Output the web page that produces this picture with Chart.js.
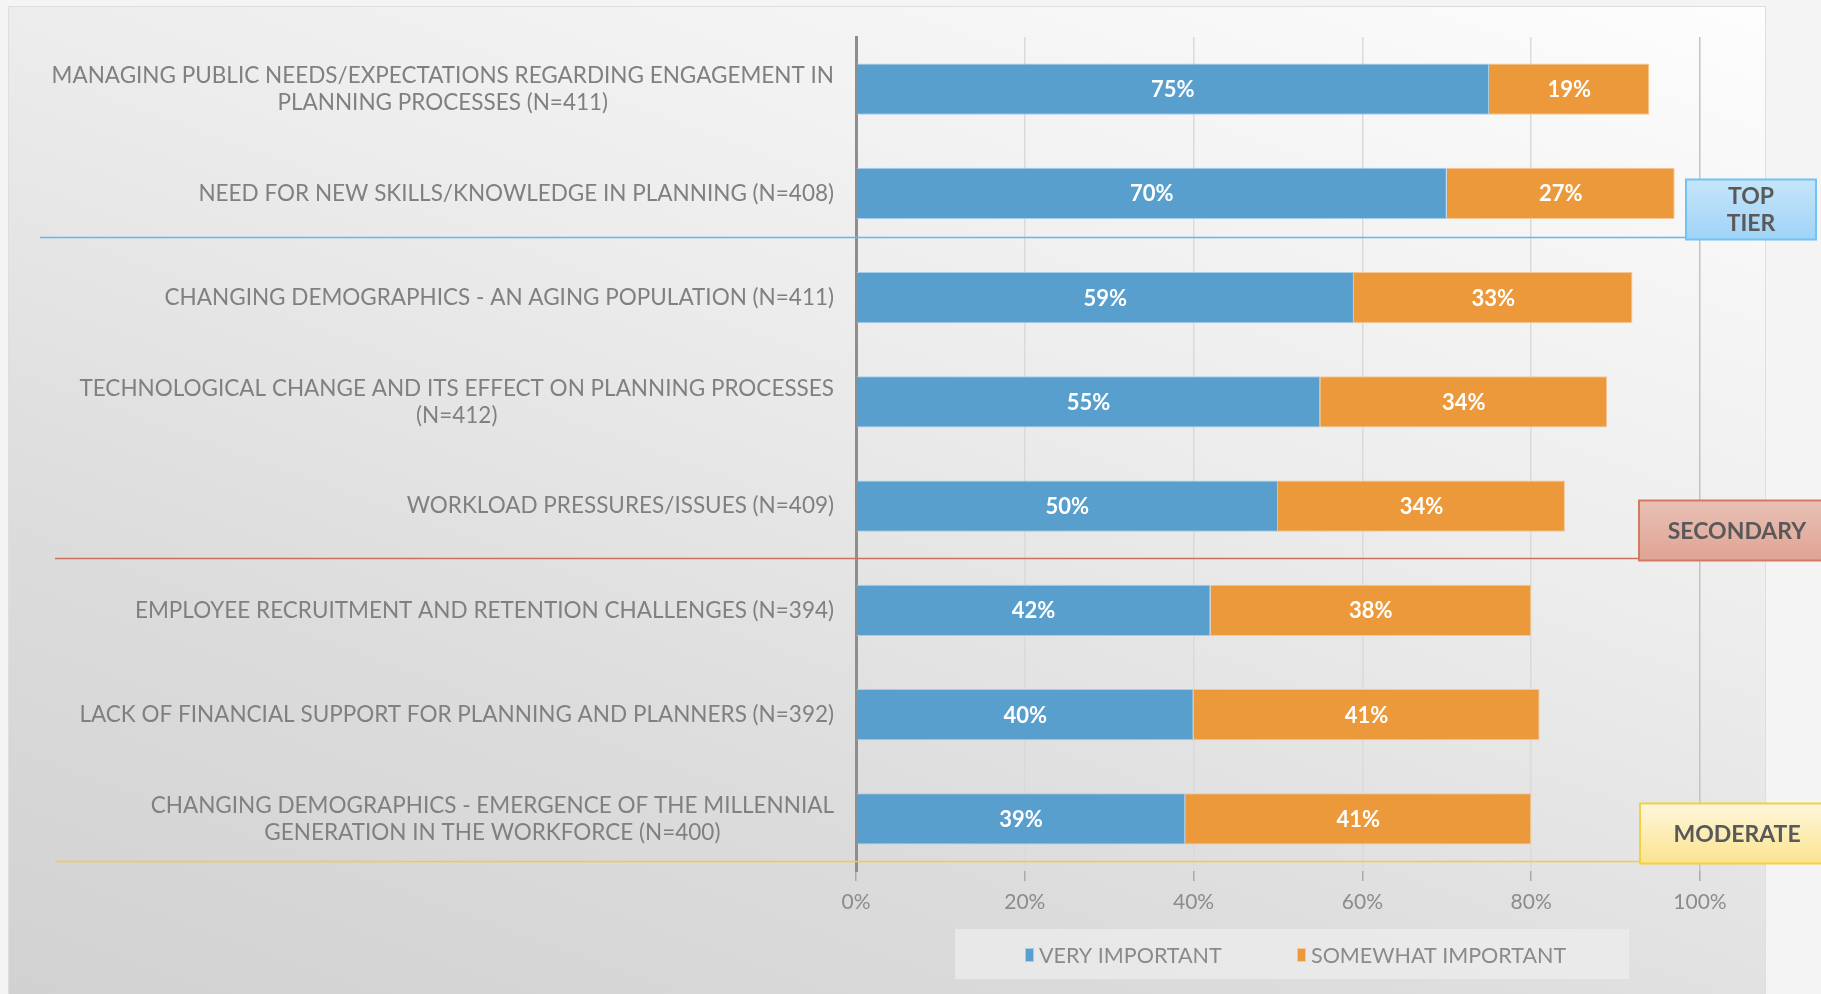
<!DOCTYPE html>
<html>
<head>
<meta charset="utf-8">
<title>Planning issues by importance</title>
<script src="https://cdn.jsdelivr.net/npm/chart.js@4.4.1/dist/chart.umd.min.js"></script>
<style>
  html, body { margin: 0; padding: 0; background: #f4f4f4; }
  #wrap  { position: relative; width: 1821px; height: 994px; overflow: hidden; }
  #panel {
    position: absolute; left: 8px; top: 6px; width: 1756px; height: 1000px;
    border: 1px solid #dedede;
    background: linear-gradient(200deg, #fdfdfd 0%, #ececec 40%, #dcdcdc 70%, #d1d1d1 100%);
  }
  #chart { position: absolute; left: 0; top: 0; }
</style>
</head>
<body>
<div id="wrap">
  <div id="panel"></div>
  <canvas id="chart" width="1821" height="994"></canvas>
</div>

<script>
/* ─── Data ───────────────────────────────────────────────────────────────── */
const categories = [
  ['MANAGING PUBLIC NEEDS/EXPECTATIONS REGARDING ENGAGEMENT IN', 'PLANNING PROCESSES (N=411)'],
  ['NEED FOR NEW SKILLS/KNOWLEDGE IN PLANNING (N=408)'],
  ['CHANGING DEMOGRAPHICS - AN AGING POPULATION (N=411)'],
  ['TECHNOLOGICAL CHANGE AND ITS EFFECT ON PLANNING PROCESSES', '(N=412)'],
  ['WORKLOAD PRESSURES/ISSUES (N=409)'],
  ['EMPLOYEE RECRUITMENT AND RETENTION CHALLENGES (N=394)'],
  ['LACK OF FINANCIAL SUPPORT FOR PLANNING AND PLANNERS (N=392)'],
  ['CHANGING DEMOGRAPHICS - EMERGENCE OF THE MILLENNIAL', 'GENERATION IN THE WORKFORCE (N=400)'],
];
const veryImportant     = [75, 70, 59, 55, 50, 42, 40, 39];
const somewhatImportant = [19, 27, 33, 34, 34, 38, 41, 41];
const seriesNames       = ['VERY IMPORTANT', 'SOMEWHAT IMPORTANT'];
const xTickValues       = [0, 20, 40, 60, 80, 100];
const tierNames         = [['TOP', 'TIER'], ['SECONDARY'], ['MODERATE']];

/* ─── Styling ────────────────────────────────────────────────────────────── */
const FONT   = "Lato, 'Open Sans', sans-serif";
const BLUE   = '#599fce';
const ORANGE = '#ec993b';

// tier separators: break sits between category rows (scale value), then style
const tierStyle = [
  { at: 1.42, line: '#63b9ee', x0: 40, boxX: 1686, boxW: 130, top: '#c6e5fa', bot: '#9fd3f7', border: '#6fc4f2' },
  { at: 4.50, line: '#c9715a', x0: 55, boxX: 1639, boxW: 196, top: '#e9c0b5', bot: '#dfa494', border: '#d47a62' },
  { at: 7.40, line: '#f1cd3c', x0: 55, boxX: 1640, boxW: 194, top: '#fef6dc', bot: '#fae48f', border: '#f3d03f' },
];

/* ─── Plugins ────────────────────────────────────────────────────────────── */
// Category names, right-aligned block with lines centered on each other
const categoryLabels = {
  id: 'categoryLabels',
  afterDraw(chart) {
    const { ctx } = chart;
    const y = chart.scales.y;
    const right = 834, lineH = 27;
    ctx.save();
    ctx.font = `22.5px ${FONT}`;
    ctx.fillStyle = '#808080';
    ctx.textAlign = 'center';
    ctx.textBaseline = 'middle';
    chart.data.labels.forEach((lines, i) => {
      const cy = y.getPixelForValue(i);
      const w = Math.max(...lines.map(l => ctx.measureText(l).width));
      const cx = right - w / 2;
      lines.forEach((l, k) => {
        ctx.fillText(l, cx, cy + (k - (lines.length - 1) / 2) * lineH);
      });
    });
    ctx.restore();
  },
};

// Percent labels centered in each bar segment
const segmentLabels = {
  id: 'segmentLabels',
  afterDatasetsDraw(chart) {
    const { ctx } = chart;
    ctx.save();
    ctx.font = `bold 22px ${FONT}`;
    ctx.fillStyle = '#ffffff';
    ctx.textAlign = 'center';
    ctx.textBaseline = 'middle';
    chart.data.datasets.forEach((ds, di) => {
      chart.getDatasetMeta(di).data.forEach((bar, i) => {
        ctx.fillText(ds.data[i] + '%', (bar.x + bar.base) / 2, bar.y + 1);
      });
    });
    ctx.restore();
  },
};

// Tier separator lines with their tag boxes
const tierMarkers = {
  id: 'tierMarkers',
  afterDraw(chart) {
    const { ctx } = chart;
    const y = chart.scales.y;
    tierStyle.forEach((t, i) => {
      const ly = Math.round(y.getPixelForValue(t.at)) + 0.5;
      ctx.save();
      ctx.strokeStyle = t.line;
      ctx.lineWidth = 1.5;
      ctx.beginPath();
      ctx.moveTo(t.x0, ly);
      ctx.lineTo(t.boxX, ly);
      ctx.stroke();

      const h = 60, bx = t.boxX, by = ly - h + 2;
      const g = ctx.createLinearGradient(0, by, 0, by + h);
      g.addColorStop(0, t.top);
      g.addColorStop(1, t.bot);
      ctx.fillStyle = g;
      ctx.fillRect(bx, by, t.boxW, h);
      ctx.strokeStyle = t.border;
      ctx.lineWidth = 2;
      ctx.strokeRect(bx, by, t.boxW, h);

      const lines = tierNames[i];
      ctx.font = `bold 23px ${FONT}`;
      ctx.fillStyle = '#595959';
      ctx.textAlign = 'center';
      ctx.textBaseline = 'middle';
      lines.forEach((l, k) => {
        ctx.fillText(l, bx + t.boxW / 2, by + h / 2 + 1 + (k - (lines.length - 1) / 2) * 27);
      });
      ctx.restore();
    });
  },
};

// Legend strip under the axis
const legendStrip = {
  id: 'legendStrip',
  afterDraw(chart) {
    const { ctx } = chart;
    ctx.save();
    ctx.fillStyle = 'rgba(238,238,238,0.7)';
    ctx.fillRect(955, 929, 674, 50);
    ctx.font = `21.5px ${FONT}`;
    ctx.textBaseline = 'middle';
    const starts = [1025, 1297];
    chart.data.datasets.forEach((ds, i) => {
      const x = starts[i];
      ctx.fillStyle = ds.backgroundColor;
      ctx.fillRect(x, 948, 9, 14);
      ctx.strokeStyle = ds.borderColor;
      ctx.lineWidth = 1;
      ctx.strokeRect(x + 0.5, 948.5, 8, 13);
      ctx.fillStyle = '#8a8a8a';
      ctx.fillText(ds.label, x + 14, 956);
    });
    ctx.restore();
  },
};

/* ─── Chart ──────────────────────────────────────────────────────────────── */
new Chart(document.getElementById('chart'), {
  type: 'bar',
  data: {
    labels: categories,
    datasets: [
      { label: seriesNames[0], data: veryImportant,     backgroundColor: BLUE,   borderColor: '#a3cdea', borderWidth: 1 },
      { label: seriesNames[1], data: somewhatImportant, backgroundColor: ORANGE, borderColor: '#f7c895', borderWidth: 1 },
    ],
  },
  options: {
    indexAxis: 'y',
    responsive: false,
    animation: false,
    layout: { padding: { left: 856, right: 121, top: 37, bottom: 73 } },
    datasets: { bar: { categoryPercentage: 1, barPercentage: 0.49 } },
    plugins: { legend: { display: false }, tooltip: { enabled: false } },
    scales: {
      x: {
        stacked: true,
        min: 0,
        max: 100,
        afterBuildTicks: s => { s.ticks = xTickValues.map(v => ({ value: v })); },
        afterFit: s => { s.height = 50; },
        border: { display: false },
        grid: {
          color: c => c.tick.value === 0 ? 'transparent' : (c.tick.value === 100 ? '#c3c3c3' : '#dadada'),
          lineWidth: 1.5,
          tickColor: '#a9a9a9',
          tickLength: 10,
        },
        ticks: {
          color: '#8c8c8c',
          padding: 9,
          font: { family: FONT, size: 21 },
          callback: v => v + '%',
        },
      },
      y: {
        stacked: true,
        afterFit: s => { s.width = 0; },
        grid: { display: false },
        border: { display: true, color: '#8e8e8e', width: 3 },
        ticks: { display: false },
      },
    },
  },
  plugins: [categoryLabels, segmentLabels, tierMarkers, legendStrip],
});
</script>
</body>
</html>
